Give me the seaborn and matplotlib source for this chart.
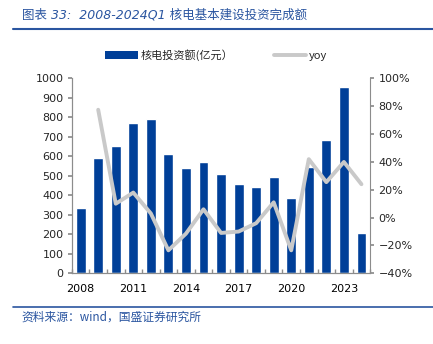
import numpy as np
import pandas as pd
import matplotlib
matplotlib.use("Agg")
import matplotlib.pyplot as plt
import seaborn as sns
from matplotlib.patches import Patch
from matplotlib.lines import Line2D
from matplotlib.ticker import FixedLocator, PercentFormatter

sns.set_theme(style="white")
plt.rcParams['font.family'] = ['DejaVu Sans', 'Noto Sans CJK SC']

years = ['2008', '2009', '2010', '2011', '2012', '2013', '2014', '2015', '2016',
         '2017', '2018', '2019', '2020', '2021', '2022', '2023', '2024Q1']
invest = [333, 590, 653, 772, 791, 613, 538, 571, 509, 459, 443, 494, 385, 544, 684, 957, 205]
yoy = [np.nan, 77.5, 10, 18, 3, -23.5, -11.5, 6, -11, -10, -4, 11, -23.5, 42, 25.5, 40, 24]
tick_labels = ['2008', '', '', '2011', '', '', '2014', '', '', '2017', '', '', '2020', '', '', '2023', '']

bar_color = '#003f98'
line_color = '#c9c9c9'
blue_text = '#2a55a0'
spine_c = '#8c8c8c'

df = pd.DataFrame({'year': years, 'invest': invest, 'yoy': yoy})
df['pos'] = np.arange(len(df))

fig = plt.figure(figsize=(4.33, 3.44), dpi=100)
ax = fig.add_axes([0.166, 0.2055, 0.689, 0.5665])

sns.barplot(data=df, x='year', y='invest', color=bar_color, width=0.56,
            saturation=1, ax=ax, order=years)
ax.set_xlim(-0.5, len(years) - 0.5)
ax.set_ylim(0, 1000)
ax.set_yticks(np.arange(0, 1001, 100))
ax.set_xlabel('')
ax.set_ylabel('')
ax.set_xticks(np.arange(len(years)))
ax.set_xticklabels(tick_labels)
ax.xaxis.set_minor_locator(FixedLocator(np.arange(len(years) + 1) - 0.5))
ax.tick_params(axis='x', which='major', length=0, labelsize=8, pad=8, colors='black')
ax.tick_params(axis='x', which='minor', length=3, direction='in', color=spine_c, bottom=True)
ax.tick_params(axis='y', length=3, direction='out', color=spine_c, labelsize=8, pad=3, left=True)

ax2 = ax.twinx()
sns.lineplot(data=df.dropna(), x='pos', y='yoy', color=line_color, linewidth=2.8, ax=ax2)
ax2.set_ylim(-40, 100)
ax2.set_yticks(np.arange(-40, 101, 20))
ax2.yaxis.set_major_formatter(PercentFormatter(decimals=0))
ax2.set_xlim(-0.5, len(years) - 0.5)
ax2.set_xlabel('')
ax2.set_ylabel('')
ax2.tick_params(axis='y', length=3, direction='out', color=spine_c, labelsize=8, pad=3, right=True)

for a in (ax, ax2):
    a.spines['top'].set_visible(False)
    for s in ('left', 'right', 'bottom'):
        a.spines[s].set_color(spine_c)
        a.spines[s].set_linewidth(0.8)
ax.spines['right'].set_visible(False)

handles = [Patch(facecolor=bar_color, edgecolor='none'),
           Line2D([0], [0], color=line_color, lw=2.8)]
fig.legend(handles, ['核电投资额(亿元）', 'yoy'], loc='center', bbox_to_anchor=(0.5, 0.84),
           ncol=2, frameon=False, handlelength=2.9, handleheight=0.75,
           columnspacing=3.6, handletextpad=0.3,
           prop={'family': ['Noto Sans CJK SC', 'DejaVu Sans'], 'size': 8})

fig.text(0.05, 0.955, '图表 33:  2008-2024Q1 核电基本建设投资完成额', fontsize=9,
         color=blue_text, style='italic', va='center', ha='left',
         family=['DejaVu Sans', 'Noto Sans CJK SC'])
fig.add_artist(Line2D([0.03, 1.0], [0.915, 0.915], color=blue_text, lw=1.5))
fig.add_artist(Line2D([0.03, 1.0], [0.108, 0.108], color=blue_text, lw=1.2))
fig.text(0.05, 0.078, '资料来源：wind，国盛证券研究所', fontsize=8.5,
         color=blue_text, style='italic', va='center', ha='left',
         family=['Noto Sans CJK SC', 'DejaVu Sans'])

fig.savefig('out.png', dpi=100)
